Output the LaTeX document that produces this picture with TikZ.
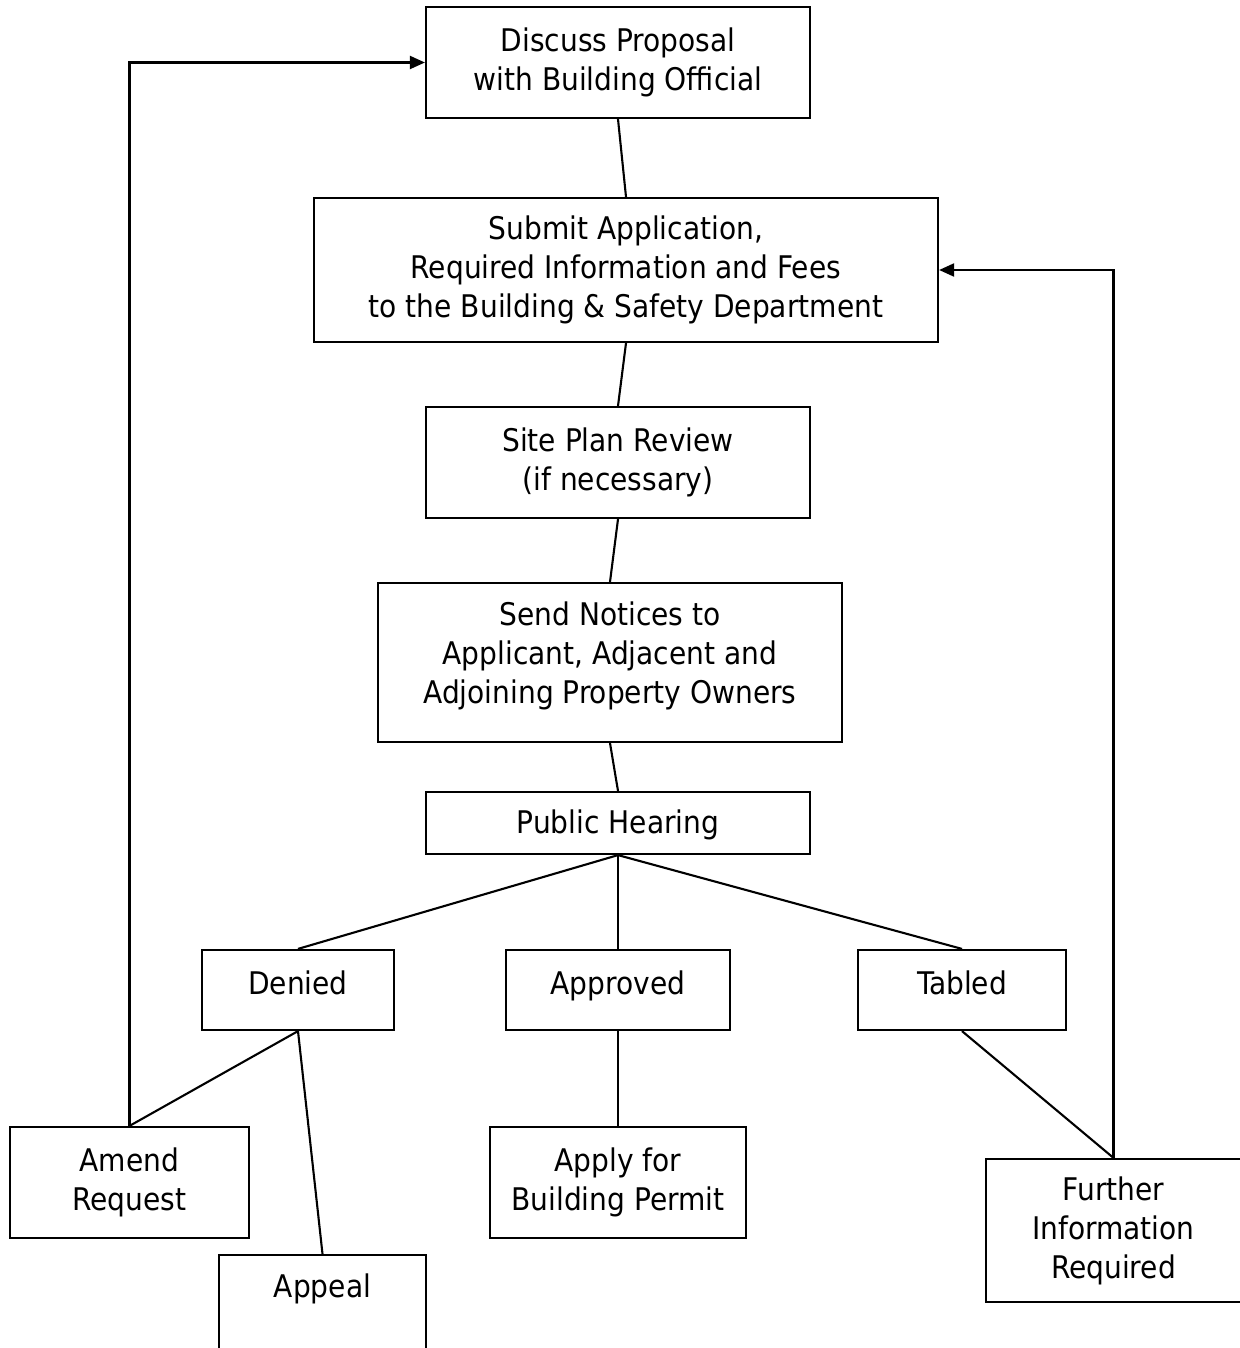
\documentclass[tikz,border=0pt]{standalone}
\usepackage{fontspec}
\setmainfont{DejaVu Sans Condensed}
\usetikzlibrary{arrows.meta}

\tikzset{
  box/.style={draw,line width=1.1pt,align=center,inner sep=0pt,
    font=\fontsize{15.6pt}{19.5pt}\selectfont},
  lifted/.style={text height=12pt,text depth=#1},
  link/.style={line width=1.05pt},
  back/.style={line width=1.05pt,-{Triangle[length=7.5pt,width=6.5pt]}}
}

\begin{document}
\begin{tikzpicture}[x=0.5pt,y=-0.5pt]
\clip (0,0) rectangle (1240,1348);

\node[box,minimum width=192pt,minimum height=55.5pt](Discuss) at (618,62.5){Discuss Proposal\\with Building Official};
\node[box,minimum width=312pt,minimum height=72pt](Submit) at (626,270){Submit Application,\\Required Information and Fees\\to the Building \& Safety Department};
\node[box,minimum width=192pt,minimum height=55.5pt](Site) at (618,462.5){Site Plan Review\\(if necessary)};
\node[box,text height=51pt,text depth=10.5pt,minimum width=232pt,minimum height=79.5pt](Notices) at (610,662.5){Send Notices to\\Applicant, Adjacent and\\Adjoining Property Owners};
\node[box,lifted=2pt,minimum width=192pt,minimum height=31pt](Hearing) at (618,823){Public Hearing};

\node[box,lifted=8pt,minimum width=96pt,minimum height=40pt](Denied) at (298,990){Denied};
\node[box,lifted=8pt,minimum width=112pt,minimum height=40pt](Approved) at (618,990){Approved};
\node[box,lifted=8pt,minimum width=104pt,minimum height=40pt](Tabled) at (962,990){Tabled};

\node[box,minimum width=119.5pt,minimum height=55.5pt](Amend) at (129.5,1182.5){Amend\\Request};
\node[box,minimum width=103.5pt,minimum height=70pt](Appeal) at (322.5,1325){Appeal\\~\\~};
\node[box,minimum width=128pt,minimum height=55.5pt](Apply) at (618,1182.5){Apply for\\Building Permit};
\node[box,minimum width=127.5pt,minimum height=71.5pt](Further) at (1113.5,1230.5){Further\\Information\\Required};

\draw[link](Discuss.south) -- (Submit.north);
\draw[link](Submit.south) -- (Site.north);
\draw[link](Site.south) -- (Notices.north);
\draw[link](Notices.south) -- (Hearing.north);

\draw[link](Hearing.south) -- (Denied.north);
\draw[link](Hearing.south) -- (Approved.north);
\draw[link](Hearing.south) -- (Tabled.north);

\draw[link](Denied.south) -- (Amend.north);
\draw[link](Denied.south) -- (Appeal.north);
\draw[link](Approved.south) -- (Apply.north);
\draw[link](Tabled.south) -- (Further.north);

% loops back
\draw[back](Amend.north) |- (Discuss.west);
\draw[back](Further.north) |- (Submit.east);

\end{tikzpicture}
\end{document}
